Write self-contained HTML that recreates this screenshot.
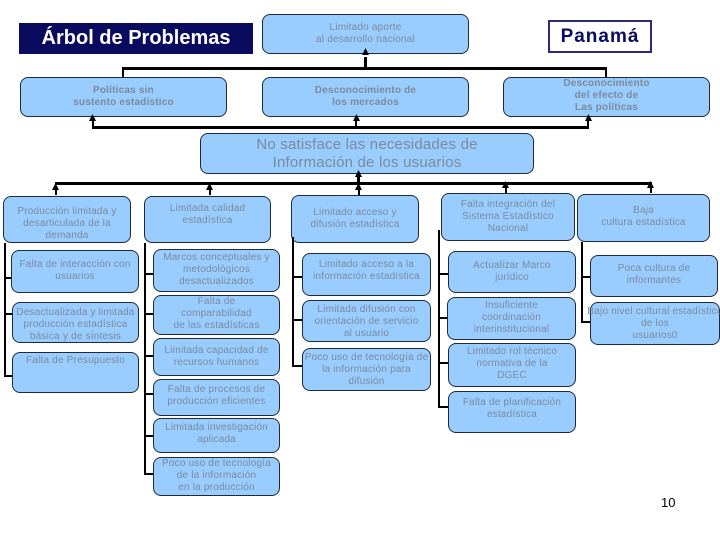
<!DOCTYPE html>
<html><head><meta charset="utf-8"><style>
body{margin:0;width:720px;height:540px;background:#fff;position:relative;overflow:hidden;font-family:"Liberation Sans",sans-serif}
.b{position:absolute;box-sizing:border-box;background:#99ccff;border:1.3px solid #1e2a3a;border-radius:8px;color:#7b8a9c;font-size:10px;text-align:center;line-height:12px;display:flex;align-items:flex-start;justify-content:center;padding-top:3px;letter-spacing:0.2px}
.c{align-items:center;padding-top:0}
.l{position:absolute;background:#000}
</style></head><body>
<div style="position:absolute;left:19px;top:23px;width:234px;height:31px;background:#0a0a5e;color:#fff;font-weight:bold;font-size:20px;line-height:31px;text-align:center">Árbol de Problemas</div>
<div style="position:absolute;left:548px;top:20px;width:104px;height:33px;box-sizing:border-box;border:2px solid #2a2a7a;color:#0a0a5e;font-weight:bold;font-size:19px;line-height:29px;text-align:center;letter-spacing:1px">Panamá</div>

<div class="b c" style="left:262px;top:14px;width:207px;height:40px">Limitado aporte<br>al desarrollo nacional</div>
<div class="b c" style="left:20px;top:77px;width:207px;height:40px;font-weight:bold">Políticas sin<br>sustento estadístico</div>
<div class="b c" style="left:262px;top:77px;width:207px;height:40px;font-weight:bold">Desconocimiento de<br>los mercados</div>
<div class="b" style="left:503px;top:77px;width:207px;height:40px;font-weight:bold;padding-top:0">Desconocimiento<br>del efecto de<br>Las políticas</div>
<div class="b c" style="left:200px;top:133px;width:334px;height:41px;font-size:15px;line-height:18px">No satisface las necesidades de<br>Información de los usuarios</div>

<!-- connectors top -->
<div class="l" style="left:122px;top:67px;width:485px;height:3px"></div>
<div class="l" style="left:122px;top:67px;width:2px;height:10px"></div>
<div class="l" style="left:605px;top:67px;width:2px;height:10px"></div>
<div class="l" style="left:364px;top:57px;width:3px;height:12px"></div>
<div class="l" style="left:92px;top:126px;width:497px;height:3px"></div>
<div class="l" style="left:92px;top:120px;width:2px;height:8px"></div>
<div class="l" style="left:355px;top:120px;width:2px;height:8px"></div>
<div class="l" style="left:587px;top:120px;width:2px;height:8px"></div>
<div class="l" style="left:55px;top:182px;width:597px;height:3px"></div>
<div class="l" style="left:357px;top:176px;width:3px;height:8px"></div>
<div class="l" style="left:55px;top:188px;width:2px;height:7px"></div>
<div class="l" style="left:209px;top:188px;width:2px;height:7px"></div>
<div class="l" style="left:358px;top:188px;width:2px;height:7px"></div>
<div class="l" style="left:505px;top:186px;width:2px;height:7px"></div>
<div class="l" style="left:650px;top:186px;width:2px;height:7px"></div>
<svg style="position:absolute;left:0;top:0" width="720" height="540">
<g fill="#000">
<polygon points="362,55 369,55 365.5,48"/>
<polygon points="89,121 96,121 92.5,114"/>
<polygon points="353,121 360,121 356.5,114"/>
<polygon points="585,121 592,121 588.5,114"/>
<polygon points="355,177 362,177 358.5,170"/>
<polygon points="52,190 59,190 55.5,183"/>
<polygon points="206,190 213,190 209.5,183"/>
<polygon points="355,190 362,190 358.5,183"/>
<polygon points="502,188 509,188 505.5,181"/>
<polygon points="647,188 654,188 650.5,181"/>
</g></svg>

<!-- row 3 -->
<div class="b" style="left:3px;top:196px;width:128px;height:47px;padding-top:9px">Producción limitada y<br>desarticulada de la<br>demanda</div>
<div class="b" style="left:144px;top:196px;width:127px;height:47px;padding-top:6px">Limitada calidad<br>estadística</div>
<div class="b" style="left:291px;top:195px;width:128px;height:48px;padding-top:11px">Limitado acceso y<br>difusión estadística</div>
<div class="b" style="left:441px;top:193px;width:134px;height:48px;padding-top:5px">Falta integración del<br>Sistema Estadístico<br>Nacional</div>
<div class="b" style="left:577px;top:194px;width:133px;height:48px;padding-top:10px">Baja<br>cultura estadística</div>

<!-- col1 -->
<div class="l" style="left:4px;top:243px;width:2px;height:134px"></div>
<div class="l" style="left:4px;top:277px;width:8px;height:2px"></div>
<div class="l" style="left:4px;top:313px;width:8px;height:2px"></div>
<div class="l" style="left:4px;top:375px;width:8px;height:2px"></div>
<div class="b" style="left:11px;top:250px;width:128px;height:43px;padding-top:8px">Falta de interacción con<br>usuarios</div>
<div class="b" style="left:12px;top:302px;width:127px;height:41px;padding-top:4px">Desactualizada y limitada<br>producción estadística<br>básica y de síntesis</div>
<div class="b" style="left:12px;top:352px;width:127px;height:41px;padding-top:2px">Falta de Presupuesto</div>

<!-- col2 -->
<div class="l" style="left:144px;top:243px;width:2px;height:231px"></div>
<div class="l" style="left:144px;top:273px;width:10px;height:2px"></div>
<div class="l" style="left:144px;top:313px;width:10px;height:2px"></div>
<div class="l" style="left:144px;top:355px;width:10px;height:2px"></div>
<div class="l" style="left:144px;top:393px;width:10px;height:2px"></div>
<div class="l" style="left:144px;top:435px;width:10px;height:2px"></div>
<div class="l" style="left:144px;top:473px;width:10px;height:2px"></div>
<div class="b" style="left:153px;top:249px;width:127px;height:43px;padding-top:2px">Marcos conceptuales y<br>metodológicos<br>desactualizados</div>
<div class="b" style="left:153px;top:295px;width:127px;height:40px;padding-top:0">Falta de<br>comparabilidad<br>de las estadísticas</div>
<div class="b" style="left:153px;top:338px;width:127px;height:38px;padding-top:6px">Limitada capacidad de<br>recursos humanos</div>
<div class="b" style="left:153px;top:379px;width:127px;height:37px;padding-top:4px">Falta de procesos de<br>producción eficientes</div>
<div class="b" style="left:153px;top:418px;width:127px;height:35px;padding-top:3px">Limitada investigación<br>aplicada</div>
<div class="b" style="left:153px;top:457px;width:127px;height:39px;padding-top:0">Poco uso de tecnología<br>de la información<br>en la producción</div>

<!-- col3 -->
<div class="l" style="left:292px;top:237px;width:2px;height:130px"></div>
<div class="l" style="left:292px;top:276px;width:10px;height:2px"></div>
<div class="l" style="left:292px;top:319px;width:10px;height:2px"></div>
<div class="l" style="left:292px;top:365px;width:10px;height:2px"></div>
<div class="b" style="left:302px;top:253px;width:129px;height:43px;padding-top:5px">Limitado acceso a la<br>información estadística</div>
<div class="b" style="left:302px;top:300px;width:129px;height:42px;padding-top:3px">Limitada difusión con<br>orientación de servicio<br>al usuario</div>
<div class="b" style="left:302px;top:348px;width:129px;height:43px;padding-top:3px">Poco uso de tecnología de<br>la información para difusión</div>

<!-- col4 -->
<div class="l" style="left:438px;top:230px;width:2px;height:178px"></div>
<div class="l" style="left:438px;top:273px;width:11px;height:2px"></div>
<div class="l" style="left:438px;top:317px;width:11px;height:2px"></div>
<div class="l" style="left:438px;top:362px;width:11px;height:2px"></div>
<div class="l" style="left:438px;top:406px;width:11px;height:2px"></div>
<div class="b" style="left:448px;top:251px;width:128px;height:42px;padding-top:8px">Actualizar Marco<br>jurídico</div>
<div class="b" style="left:447px;top:297px;width:129px;height:43px;padding-top:2px">Insuficiente<br>coordinación<br>interinstitucional</div>
<div class="b" style="left:448px;top:343px;width:128px;height:44px;padding-top:2px">Limitado rol técnico<br>normativa de la<br>DGEC</div>
<div class="b" style="left:448px;top:391px;width:128px;height:42px;padding-top:5px">Falta de planificación<br>estadística</div>

<!-- col5 -->
<div class="l" style="left:581px;top:242px;width:2px;height:81px"></div>
<div class="l" style="left:581px;top:276px;width:9px;height:2px"></div>
<div class="l" style="left:581px;top:321px;width:9px;height:2px"></div>
<div class="b" style="left:590px;top:255px;width:128px;height:42px;padding-top:7px">Poca cultura de<br>informantes</div>
<div class="b" style="left:590px;top:302px;width:130px;height:43px;padding-top:3px;white-space:nowrap">Bajo nivel cultural estadístico<br>de los<br>usuarios0</div>

<div style="position:absolute;left:661px;top:495px;font-size:13px;color:#000">10</div>
</body></html>
